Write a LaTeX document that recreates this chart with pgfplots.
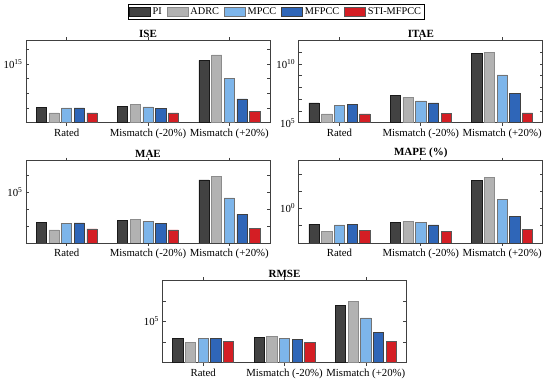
\documentclass[border=0pt]{standalone}
\usepackage{pgfplots}
\pgfplotsset{compat=1.18}
\usepackage{fontspec}
\setmainfont{Liberation Serif}
\definecolor{cPI}{HTML}{424242}
\definecolor{cADRC}{HTML}{B2B2B2}
\definecolor{cMPCC}{HTML}{7DB5EA}
\definecolor{cMFPCC}{HTML}{2F66B8}
\definecolor{cSTI}{HTML}{D41E24}
\pgfplotsset{
  panel/.style={
    scale only axis, width=244pt, height=82.4pt,
    log origin y=infty,
    xmin=0.5, xmax=3.5, xtick={1,2,3},
    xticklabels={Rated,Mismatch (-20\%),Mismatch (+20\%)},
    tick align=inside, major tick length=3pt, minor tick length=0pt,
    axis line style={line width=0.8pt, black!75},
    every tick/.style={black!75, line width=0.6pt},
    ybar, bar width=0.126,
    title style={font=\bfseries\fontsize{11}{13}\selectfont, yshift=-6.5pt},
    tick label style={font=\fontsize{10.8}{12}\selectfont, black},
  },
  sPI/.style={fill=cPI, draw=black!90, line width=0.6pt, bar shift=-0.312},
  sADRC/.style={fill=cADRC, draw=black!45, line width=0.6pt, bar shift=-0.156},
  sMPCC/.style={fill=cMPCC, draw=black!55, line width=0.6pt, bar shift=0},
  sMFPCC/.style={fill=cMFPCC, draw=black!75, line width=0.6pt, bar shift=0.156},
  sSTI/.style={fill=cSTI, draw=black!65, line width=0.6pt, bar shift=0.312},
}
\begin{document}
\begin{tikzpicture}
\path[use as bounding box] (0,0) rectangle (550pt,-380pt);
% ISE
\begin{axis}[ymode=log, panel, at={(26pt,-40.3pt)}, anchor=north west, title={ISE},
  ymin=1e11, ymax=4.2e16, ytick={1e11,1e12,1e13,1e14,1e15,1e16},
  yticklabels={{},{},{},{},{10\textsuperscript{15}},{}},
  legend columns=5,
  legend image code/.code={\draw[#1] (0pt,-4.5pt) rectangle (21pt,5pt);},
  legend style={at={(1.025,1.345)}, anchor=center, draw=black, line width=0.8pt,
    font=\fontsize{10.3}{12}\selectfont, inner sep=1pt,
    /tikz/every odd column/.append style={column sep=0pt},
    /tikz/every even column/.append style={column sep=3pt}},
]
\addplot[sPI] coordinates {(1,1.07e12) (2,1.26e12) (3,1.82e15)};
\addplot[sADRC] coordinates {(1,4.68e11) (2,1.74e12) (3,4.17e15)};
\addplot[sMPCC] coordinates {(1,1.02e12) (2,1.20e12) (3,1.07e14)};
\addplot[sMFPCC] coordinates {(1,1.02e12) (2,9.77e11) (3,4.27e12)};
\addplot[sSTI] coordinates {(1,4.68e11) (2,4.68e11) (3,5.75e11)};
\legend{PI,ADRC,MPCC,MFPCC,STI-MFPCC}
\end{axis}
% ITAE
\begin{axis}[ymode=log, panel, at={(298.8pt,-40.3pt)}, anchor=north west, title={ITAE},
  ymin=1e5, ymax=1e12, ytick={1e5,1e6,1e7,1e8,1e9,1e10,1e11,1e12},
  yticklabels={{10\textsuperscript{5}},{},{},{},{},{10\textsuperscript{10}},{},{}},
]
\addplot[sPI] coordinates {(1,4.9e6) (2,1.95e7) (3,7.59e10)};
\addplot[sADRC] coordinates {(1,5.6e5) (2,1.41e7) (3,1.0e11)};
\addplot[sMPCC] coordinates {(1,2.95e6) (2,7.24e6) (3,1.15e9)};
\addplot[sMFPCC] coordinates {(1,3.55e6) (2,4.9e6) (3,2.88e7)};
\addplot[sSTI] coordinates {(1,5.6e5) (2,6.17e5) (3,6.92e5)};
\end{axis}
% MAE
\begin{axis}[ymode=log, panel, at={(26pt,-160.5pt)}, anchor=north west, title={MAE},
  ymin=1e2, ymax=7.0e6, ytick={1e2,1e3,1e4,1e5,1e6},
  yticklabels={{},{},{},{10\textsuperscript{5}},{}},
]
\addplot[sPI] coordinates {(1,1550) (2,2140) (3,5.13e5)};
\addplot[sADRC] coordinates {(1,589) (2,2450) (3,7.76e5)};
\addplot[sMPCC] coordinates {(1,1410) (2,1860) (3,4.37e4)};
\addplot[sMFPCC] coordinates {(1,1480) (2,1410) (3,4680)};
\addplot[sSTI] coordinates {(1,661) (2,589) (3,750)};
\end{axis}
% MAPE
\begin{axis}[ymode=log, panel, at={(298.8pt,-160.5pt)}, anchor=north west, title={MAPE (\%)},
  ymin=1e-2, ymax=590, ytick={1e-2,1e-1,1,1e1,1e2},
  yticklabels={{},{},{10\textsuperscript{0}},{},{}},
]
\addplot[sPI] coordinates {(1,0.122) (2,0.160) (3,40.3)};
\addplot[sADRC] coordinates {(1,0.048) (2,0.183) (3,60.3)};
\addplot[sMPCC] coordinates {(1,0.111) (2,0.146) (3,3.33)};
\addplot[sMFPCC] coordinates {(1,0.117) (2,0.111) (3,0.356)};
\addplot[sSTI] coordinates {(1,0.052) (2,0.048) (3,0.063)};
\end{axis}
% RMSE
\begin{axis}[ymode=log, panel, at={(162.5pt,-280.3pt)}, anchor=north west, title={RMSE},
  ymin=1e3, ymax=1e7, ytick={1e3,1e4,1e5,1e6,1e7},
  yticklabels={{},{},{10\textsuperscript{5}},{},{}},
]
\addplot[sPI] coordinates {(1,1.51e4) (2,1.62e4) (3,6.17e5)};
\addplot[sADRC] coordinates {(1,1.0e4) (2,1.91e4) (3,9.55e5)};
\addplot[sMPCC] coordinates {(1,1.46e4) (2,1.58e4) (3,1.48e5)};
\addplot[sMFPCC] coordinates {(1,1.46e4) (2,1.41e4) (3,3.09e4)};
\addplot[sSTI] coordinates {(1,1.05e4) (2,1.0e4) (3,1.12e4)};
\end{axis}
\end{tikzpicture}
\end{document}
